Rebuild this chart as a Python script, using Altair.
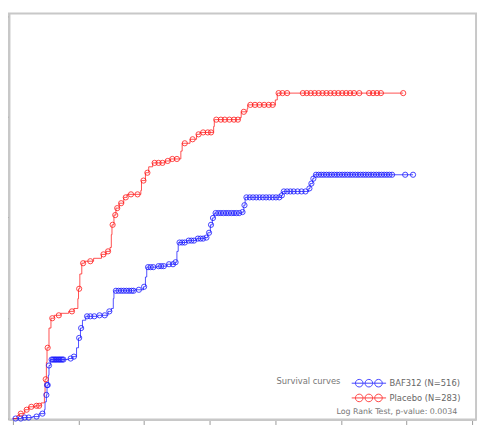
import altair as alt
import pandas as pd

# ---- data (time in days, cumulative proportion) ----
groups = ["BAF312 (N=516)", "Placebo (N=283)"]
colors = ["#1414ff", "#ff1414"]

# step curves: times where the curve jumps and the level after the jump
placebo_t = [0, 6, 10, 18, 24, 34, 43, 48, 49, 51, 52, 55, 58, 63, 73, 85, 93, 99, 100, 102,
             105, 109, 123, 135, 142, 148, 150, 151, 154, 157, 162, 169, 174, 195, 196, 202,
             207, 213, 232, 240, 256, 258, 270, 280, 285, 306, 307, 346, 348, 357, 358, 400,
             403, 595]
placebo_v = [0, .0029, .0049, .0088, .0117, .0127, .0156, .0254, .0391, .0557, .0704, .09,
             .0998, .1027, .1047, .1066, .1095, .1193, .1291, .1438, .1545, .1565, .1594,
             .1633, .1663, .1702, .1829, .1927, .2024, .2093, .2142, .22, .223, .2269, .2367,
             .2445, .2504, .2543, .2562, .2582, .266, .2738, .2778, .2827, .2846, .2905,
             .2973, .2993, .3051, .3081, .312, .3169, .3237, .3237]

baf_t = [0, 13, 30, 40, 48, 49, 51, 52, 54, 55, 57, 85, 91, 97, 100, 103, 106, 111, 130, 145,
         150, 153, 154, 186, 199, 202, 204, 220, 235, 247, 250, 252, 265, 280, 292, 297, 301,
         304, 307, 349, 352, 354, 409, 411, 451, 453, 457, 459, 610]
baf_v = [0, .001, .002, .0049, .0088, .0166, .0235, .0333, .043, .0528, .0587, .0597, .0616,
         .0704, .0802, .09, .0978, .1017, .1027, .1066, .1095, .1193, .1271, .1281, .1311,
         .1408, .1506, .1516, .1535, .1555, .1663, .1751, .177, .179, .18, .1848, .1927,
         .1995, .2044, .2054, .2122, .22, .222, .2259, .2289, .2337, .2386, .2425, .2425]

# censoring marks: (level, [times on that level])
placebo_cens = [
    (.0049, [12]), (.0088, [21]), (.0117, [28]), (.0127, [36, 40]), (.0391, [50]),
    (.0704, [53]), (.0998, [60]), (.1027, [70]), (.1066, [90]), (.1291, [101]),
    (.1545, [107]), (.1565, [118]), (.1633, [138]), (.1663, [145]), (.1927, [152]),
    (.2024, [156]), (.2093, [159]), (.2142, [165]), (.22, [172]), (.223, [180, 190]),
    (.2367, [199]), (.2445, [205]), (.2543, [216, 222, 228]), (.2562, [236]),
    (.2582, [243, 250]), (.2738, [262]), (.2778, [274]), (.2827, [283]),
    (.2846, [290, 297, 302]), (.2973, [310, 317, 323, 330, 337, 343]), (.3051, [352]),
    (.312, [362, 369, 376, 383, 390, 396]),
    (.3237, [405, 411, 418, 442, 448, 454, 460, 466, 472, 478, 484, 490, 496, 502, 508,
             514, 520, 528, 543, 549, 555, 561, 595]),
]
baf_cens = [
    (0, [4, 12]), (.001, [18, 24]), (.002, [36]), (.0049, [45]), (.0235, [51]),
    (.0333, [52, 53]), (.0528, [55]), (.0587, [59, 61, 63, 65, 67, 69, 71, 73, 75, 77]),
    (.0597, [88]), (.0616, [93]), (.0802, [101]), (.09, [104]), (.1017, [113, 118, 124]),
    (.1027, [132, 140]), (.1066, [147]),
    (.1271, [157, 161, 165, 169, 173, 177, 181, 184]), (.1281, [192]), (.1311, [200]),
    (.1506, [206, 210, 214]), (.1516, [222, 226, 230]), (.1535, [238, 244]),
    (.1555, [248]), (.1751, [254, 258, 262]), (.177, [268, 272, 276]),
    (.179, [282, 286, 290]), (.18, [295]), (.1848, [299]), (.1927, [302]), (.1995, [305]),
    (.2044, [309, 313, 317, 321, 325, 329, 333, 337, 341, 345]), (.2054, [350]),
    (.2122, [353]), (.22, [356, 361, 366, 371, 376, 381, 386, 391, 396, 401, 406]),
    (.222, [410]), (.2259, [413, 418, 423, 428, 434, 440, 446]), (.2289, [452]),
    (.2337, [455]), (.2386, [458]),
    (.2425, [462, 466, 470, 474, 478, 482, 486, 490, 494, 498, 502, 506, 510, 514, 518,
             522, 526, 530, 534, 538, 542, 546, 550, 554, 558, 562, 566, 570, 574, 578,
             598, 610]),
]

x_ticks = [0, 100, 200, 300, 400, 500, 600, 700]
y_ticks = [0, 0.1, 0.2, 0.3, 0.4]
legend_title = "Survival curves"
pvalue_text = "Log Rank Test, p-value: 0.0034"

# ---- tables ----
steps = pd.concat([
    pd.DataFrame({"time": baf_t, "value": baf_v, "group": groups[0]}),
    pd.DataFrame({"time": placebo_t, "value": placebo_v, "group": groups[1]}),
])
rows = []
for g, table in ((groups[0], baf_cens), (groups[1], placebo_cens)):
    for level, times in table:
        for t in times:
            rows.append({"time": t, "value": level, "group": g})
cens = pd.DataFrame(rows)

FONT = "DejaVu Sans"
sym_path = ("M-1,0L1,0"
            "M-0.78,0A0.22,0.22 0 1,0 -0.34,0A0.22,0.22 0 1,0 -0.78,0"
            "M-0.22,0A0.22,0.22 0 1,0 0.22,0A0.22,0.22 0 1,0 -0.22,0"
            "M0.34,0A0.22,0.22 0 1,0 0.78,0A0.22,0.22 0 1,0 0.34,0")

legend = alt.Legend(
    title=legend_title, orient="none", legendX=272, legendY=370,
    titleOrient="left", titleAnchor="start", titleFontWeight="normal", titleFontSize=8.5,
    titleColor="#777777", titleFont=FONT, titlePadding=10, titleBaseline="top",
    labelFont=FONT, labelFontSize=8.5, labelColor="#666666", labelOffset=3,
    symbolType=sym_path, symbolSize=1225, symbolStrokeWidth=1,
    symbolFillColor="transparent", symbolOpacity=0.8, clipHeight=12, rowPadding=3,
    padding=0,
)

xs = alt.X("time:Q", scale=alt.Scale(domain=[-6, 706], nice=False, zero=False),
           axis=alt.Axis(values=x_ticks, labels=False, title=None, grid=False,
                         domainColor="#c8c8c8", domainWidth=2, tickColor="#999999",
                         tickSize=5))
ys = alt.Y("value:Q", scale=alt.Scale(domain=[-0.001, 0.4029], nice=False, zero=False),
           axis=alt.Axis(values=y_ticks, labels=False, title=None, grid=False,
                         domainColor="#c8c8c8", domainWidth=2, tickColor="#999999",
                         tickSize=5))
col = alt.Color("group:N", scale=alt.Scale(domain=groups, range=colors), legend=legend)

lines = alt.Chart(steps).mark_line(interpolate="step-after", strokeWidth=1, opacity=0.75).encode(
    x=xs, y=ys, color=col
)
points = alt.Chart(cens).mark_point(shape="circle", filled=False, size=28, strokeWidth=1,
                                     opacity=0.8).encode(
    x=xs, y=ys, color=col
)
ptext = alt.Chart(pd.DataFrame({"label": [pvalue_text]})).mark_text(
    align="right", baseline="middle", font=FONT, fontSize=8, color="#777777"
).encode(text="label:N", x=alt.value(456), y=alt.value(405))

chart = alt.layer(lines, points, ptext).properties(
    width=475, height=413,
    autosize=alt.AutoSizeParams(type="none"),
    padding={"left": 1, "top": 2, "right": 2, "bottom": 5},
).configure_view(stroke="#c8c8c8", strokeWidth=2)

chart.save("out.html", embed_options={"renderer": "svg", "actions": False})
